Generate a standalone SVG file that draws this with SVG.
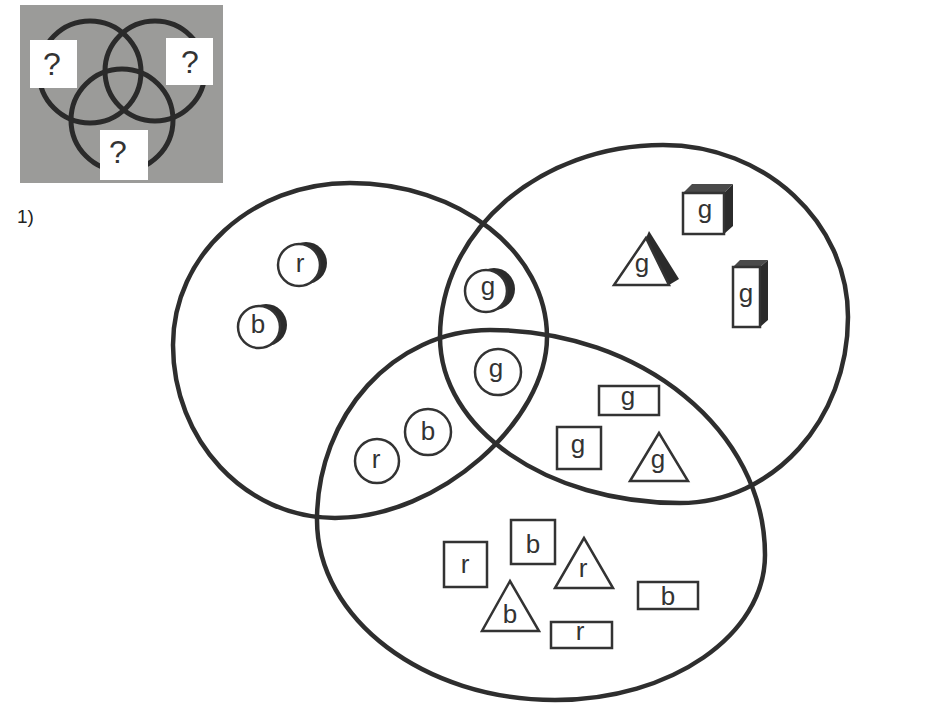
<svg xmlns="http://www.w3.org/2000/svg" width="927" height="705" viewBox="0 0 927 705">
<style>
.big{fill:none;stroke:#2e2e2e;stroke-width:4.5}
.ins{fill:none;stroke:#2a2a2a;stroke-width:5}
.qbox{fill:#fff}
.q{font-family:"Liberation Sans",Arial,sans-serif;font-size:32px;fill:#333;text-anchor:middle}
.sh{fill:#fff;stroke:#333;stroke-width:2.5}
.dark{fill:#2b2b2b}
.mid{fill:#4a4a4a}
.l{font-family:"Liberation Sans",Arial,sans-serif;font-size:26px;fill:#333;text-anchor:middle}
.num{font-family:"Liberation Sans",Arial,sans-serif;font-size:19px;fill:#222}
</style>
<rect width="927" height="705" fill="#fff"/>
<g id="inset">
<rect x="20" y="5" width="203" height="178" fill="#9b9b99"/>
<circle class="ins" cx="90" cy="72" r="51"/>
<circle class="ins" cx="155" cy="71" r="50"/>
<circle class="ins" cx="122" cy="120" r="51"/>
<rect class="qbox" x="30" y="40" width="47" height="48"/>
<rect class="qbox" x="166" y="38" width="47" height="47"/>
<rect class="qbox" x="100" y="130" width="48" height="50"/>
<text class="q" x="52" y="75">?</text>
<text class="q" x="190" y="73">?</text>
<text class="q" x="118" y="163">?</text>
</g>
<text class="num" x="17" y="223">1)</text>
<g id="set-left">
<path class="big" d="M173,345 C173,255 252,183 350,183 C459,183 547,252 547,337 C547,420 440,518 335,518 C245,518 173,440 173,345 Z"/>
</g>
<g id="set-right">
<path class="big" d="M440,337 C440,231 540,145 663,145 C765,145 848,222 848,317 C848,420 773,503 680,503 C547,503 440,429 440,337 Z"/>
</g>
<g id="set-bottom">
<path class="big" d="M317,520 C317,415 394,330 490,330 C642,330 765,431 765,555 C765,635 671,700 555,700 C424,700 317,619 317,520 Z"/>
</g>
<g id="ball-r">
<circle class="dark" cx="306" cy="263" r="21"/>
<circle class="sh" cx="299" cy="265" r="21"/>
<text class="l" x="300" y="272">r</text>
</g>
<g id="ball-b">
<circle class="dark" cx="266" cy="325" r="21"/>
<circle class="sh" cx="259" cy="327" r="21"/>
<text class="l" x="258" y="333">b</text>
</g>
<g id="ball-g">
<circle class="dark" cx="494" cy="289" r="21"/>
<circle class="sh" cx="486" cy="291" r="21"/>
<text class="l" x="488" y="295">g</text>
</g>
<g id="disc-g">
<circle class="sh" cx="498" cy="372" r="23"/>
<text class="l" x="496" y="377">g</text>
</g>
<g id="disc-r">
<circle class="sh" cx="377" cy="461" r="22"/>
<text class="l" x="376" y="468">r</text>
</g>
<g id="disc-b">
<circle class="sh" cx="428" cy="432" r="23"/>
<text class="l" x="428" y="440">b</text>
</g>
<g id="cube-g">
<polygon class="mid" points="683,193 692,184 733,184 724,193"/>
<polygon class="dark" points="724,193 733,184 733,226 724,234"/>
<rect class="sh" x="683" y="193" width="41" height="41"/>
<text class="l" x="705" y="218">g</text>
</g>
<g id="prism-g">
<polygon class="dark" points="646,238 649,231 679,279 669,285"/>
<polygon class="sh" points="646,238 614,285 669,285"/>
<text class="l" x="642" y="272">g</text>
</g>
<g id="tallbox-g">
<polygon class="mid" points="733,267 740,260 768,260 760,267"/>
<polygon class="dark" points="760,267 768,260 768,320 760,327"/>
<rect class="sh" x="733" y="267" width="27" height="60"/>
<text class="l" x="746" y="302">g</text>
</g>
<g id="rect-g">
<rect class="sh" x="599" y="386" width="60" height="29"/>
<text class="l" x="628" y="405">g</text>
</g>
<g id="square-g">
<rect class="sh" x="557" y="427" width="44" height="42"/>
<text class="l" x="578" y="453">g</text>
</g>
<g id="triangle-g">
<polygon class="sh" points="659,433 630,481 688,481"/>
<text class="l" x="658" y="468">g</text>
</g>
<g id="square-r">
<rect class="sh" x="444" y="542" width="43" height="45"/>
<text class="l" x="465" y="573">r</text>
</g>
<g id="square-b">
<rect class="sh" x="511" y="520" width="44" height="44"/>
<text class="l" x="533" y="553">b</text>
</g>
<g id="triangle-r">
<polygon class="sh" points="584,538 555,588 613,588"/>
<text class="l" x="583" y="577">r</text>
</g>
<g id="triangle-b">
<polygon class="sh" points="510,581 482,631 539,631"/>
<text class="l" x="510" y="623">b</text>
</g>
<g id="rect-r">
<rect class="sh" x="551" y="622" width="61" height="26"/>
<text class="l" x="580" y="640">r</text>
</g>
<g id="rect-b">
<rect class="sh" x="638" y="582" width="60" height="27"/>
<text class="l" x="668" y="605">b</text>
</g>
</svg>
